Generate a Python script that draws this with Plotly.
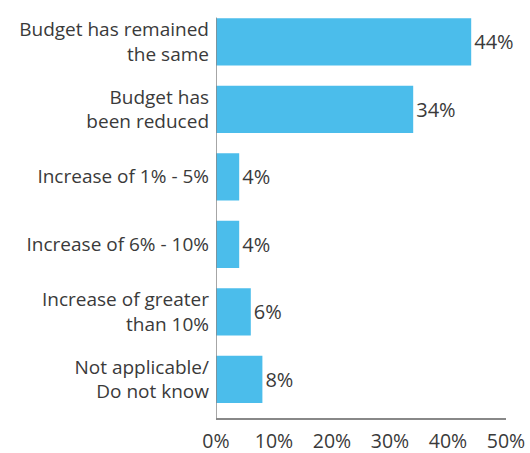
import plotly.graph_objects as go

categories = [
    "Budget has remained<br>the same",
    "Budget has<br>been reduced",
    "Increase of 1% - 5%",
    "Increase of 6% - 10%",
    "Increase of greater<br>than 10%",
    "Not applicable/<br>Do not know",
]
values = [44, 34, 4, 4, 6, 8]
value_labels = [f"{v}%" for v in values]
x_ticks = [0, 10, 20, 30, 40, 50]
x_tick_labels = [f"{t}%" for t in x_ticks]

BAR = "#4BBDEB"
TEXT = "#3a3a3a"
FONT = "Open Sans"

fig = go.Figure(
    go.Bar(
        x=values,
        y=list(range(len(categories))),
        orientation="h",
        marker=dict(color=BAR, line=dict(width=0)),
        text=value_labels,
        textposition="outside",
        textfont=dict(family=FONT, size=20, color=TEXT),
        cliponaxis=False,
        width=0.7,
    )
)

fig.update_layout(
    width=530,
    height=453,
    margin=dict(l=216, r=24, t=8, b=35, autoexpand=False),
    plot_bgcolor="white",
    paper_bgcolor="white",
    showlegend=False,
    font=dict(family=FONT, size=19, color=TEXT),
    xaxis=dict(
        range=[0, 50],
        tickvals=x_ticks,
        ticktext=x_tick_labels,
        showgrid=False,
        zeroline=False,
        showline=True,
        linecolor="#888888",
        linewidth=1.5,
        ticks="",
        automargin=False,
        tickfont=dict(family=FONT, size=19.5, color=TEXT),
        ticklabelstandoff=5,
    ),
    yaxis=dict(
        range=[5.574, -0.5],
        tickvals=list(range(len(categories))),
        ticktext=categories,
        showgrid=False,
        zeroline=False,
        showline=False,
        ticks="",
        automargin=False,
        tickfont=dict(family=FONT, size=19, color=TEXT),
        ticklabelstandoff=6,
    ),
    shapes=[
        dict(
            type="line",
            xref="x",
            yref="paper",
            x0=0,
            x1=0,
            y0=0,
            y1=0.977,
            line=dict(color="#888888", width=1.5),
        )
    ],
)

fig.write_html("out.html")
